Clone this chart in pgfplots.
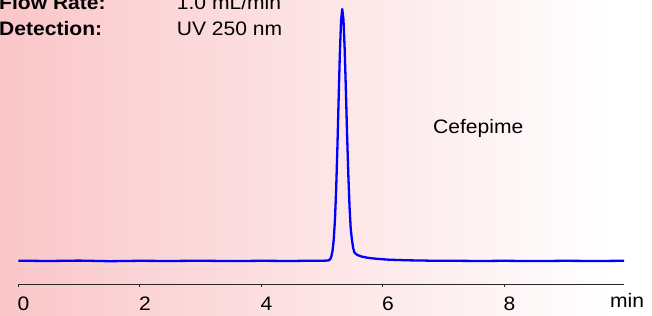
\documentclass[border=0pt]{standalone}
\usepackage{pgfplots}
\pgfplotsset{compat=1.18}
\usepackage{fontspec}
\setmainfont{Liberation Sans}[FakeStretch=1.08]
\definecolor{bgpink}{RGB}{250,198,201}
\definecolor{axgray}{RGB}{40,40,40}
\begin{document}
\fontsize{19.5pt}{23pt}\selectfont
\begin{tikzpicture}[x=1pt,y=1pt]
\path[use as bounding box] (0,0) rectangle (657,316);
\shade[left color=bgpink, right color=white] (0,0) rectangle (610,316);
\fill[white] (609.5,0) rectangle (652,316);
\fill[bgpink] (652,0) rectangle (657,316);
\begin{axis}[
  at={(18.3pt,32pt)}, anchor=south west,
  scale only axis, width=605.7pt, height=284pt,
  xmin=0, xmax=9.97, ymin=-23, ymax=261,
  axis x line=bottom, axis y line=none,
  x axis line style={-, draw=axgray, line width=0.9pt},
  xtick={0,2,4,6,8}, ytick=\empty,
  tick align=outside, major tick length=3pt,
  tick style={draw=axgray, line width=0.8pt},
  /pgf/number format/assume math mode=true,
  xticklabel style={anchor=base west, inner sep=0pt, xshift=-1pt, yshift=-23.5pt},
  clip=false,
]
\addplot[blue, line width=2.3pt, line join=round] coordinates {
(0,0.3) (0.5,0) (1.0,0.4) (1.5,-0.2) (2.0,0.2) (2.5,0) (3.0,0.3) (3.5,-0.1)
(4.0,0.2) (4.5,0) (4.8,0.3) (5.0,0.2) (5.1,0.5) (5.132,1.6) (5.152,4.3)
(5.172,10.0) (5.192,21.3) (5.212,41.1) (5.232,71.5) (5.252,112.6)
(5.272,160.1) (5.292,205.9) (5.312,239.6) (5.332,252) (5.352,241.4)
(5.372,212.2) (5.392,171) (5.412,126.5) (5.432,86.5) (5.452,54.5)
(5.472,32) (5.492,21) (5.512,13) (5.532,8.5) (5.58,6) (5.65,4.5)
(5.75,3.2) (5.9,2.2) (6.1,1.3) (6.4,0.7) (6.8,0.3) (7.2,0.2) (7.6,0)
(8.0,0.2) (8.5,-0.1) (9.0,0.2) (9.5,0) (9.97,0.2)
};
\end{axis}
\node[anchor=base west, inner sep=0pt] at (610,8) {min};
\node[anchor=base west, inner sep=0pt] at (-1,306) {\bfseries Flow Rate:};
\node[anchor=base west, inner sep=0pt] at (-1,280) {\bfseries Detection:};
\node[anchor=base west, inner sep=0pt] at (176.7,306) {1.0 mL/min};
\node[anchor=base west, inner sep=0pt] at (176.7,280) {UV 250 nm};
\node[anchor=base west, inner sep=0pt] at (433,182) {Cefepime};
\end{tikzpicture}
\end{document}
